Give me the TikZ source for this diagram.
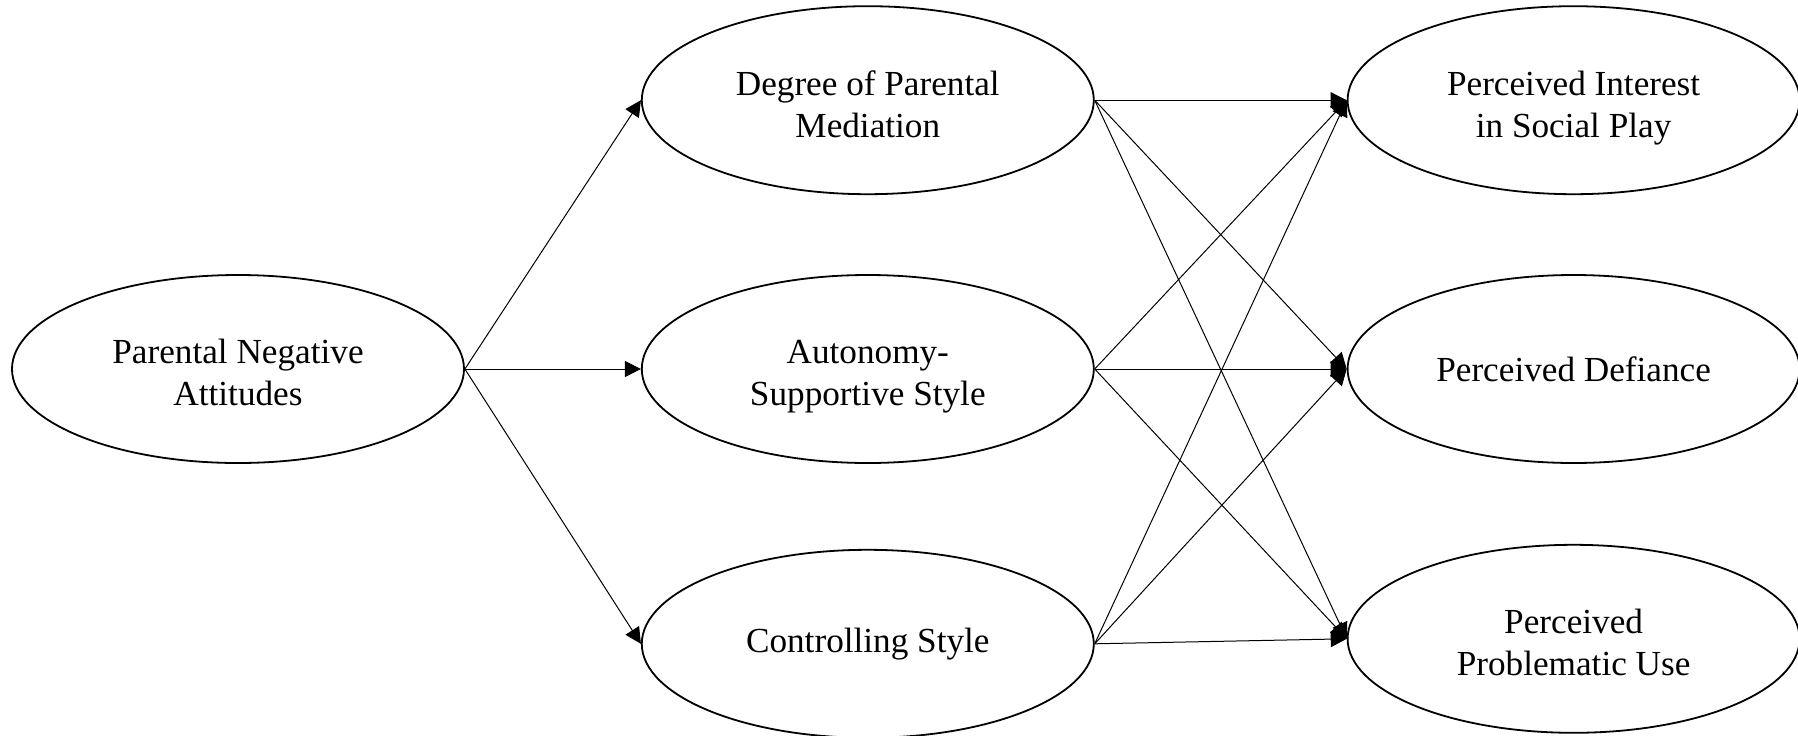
\documentclass[tikz,border=0pt]{standalone}
\usepackage{fontspec}
\setmainfont{Liberation Serif}
\usepackage{tikz}
\usetikzlibrary{positioning,shapes.geometric,arrows.meta}
\tikzstyle{arrow} = [line width=0.5pt,->,>={Triangle[length=8pt,width=8pt]}]

\begin{document}
\begin{tikzpicture}[
ovalnode/.style={ellipse, draw, line width=0.9pt, minimum width=226pt, minimum height=94pt, inner sep=0pt, align=center, font=\fontsize{17.6}{21}\selectfont},
twoline/.style={text height=36.8pt, text depth=0pt},]
\useasboundingbox (-119pt,-183pt) rectangle (780pt,184.5pt);
%Nodes
\node[ovalnode, twoline]                         (PNA)              {Parental Negative\\Attitudes};
\node[ovalnode, twoline, right=88pt of PNA]      (AUT)              {Autonomy-\\Supportive Style};
\node[ovalnode, twoline, above=39.5pt of AUT]    (DPM)              {Degree of Parental\\Mediation};
\node[ovalnode, below=42.5pt of AUT]             (CTL)              {Controlling Style};
\node[ovalnode, right=126pt of AUT]              (DEF)              {Perceived Defiance};
\node[ovalnode, twoline, right=126pt of DPM]     (INT)              {Perceived Interest\\in Social Play};
\node[ovalnode, twoline, below=40pt of DEF]      (PPU)              {Perceived\\Problematic Use};

%Lines
\draw[arrow] (PNA.east) -- (DPM.west);
\draw[arrow] (PNA.east) -- (AUT.west);
\draw[arrow] (PNA.east) -- (CTL.west);

\foreach \src in {DPM,AUT,CTL}
  \foreach \dst in {INT,DEF,PPU}
    \draw[arrow] (\src.east) -- (\dst.west);
\end{tikzpicture}
\end{document}
